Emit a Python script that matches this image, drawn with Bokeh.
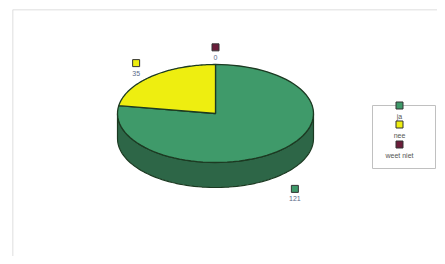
import numpy as np
from bokeh.plotting import figure
from bokeh.models import Range1d, ColumnDataSource
from bokeh.embed import file_html
from bokeh.resources import INLINE

categories = ["ja", "nee", "weet niet"]
counts = [121, 35, 0]
top_colors = ["#3f9a6a", "#eeee10", "#6b1d3a"]
side_colors = ["#2d6647", "#a8a800", "#4a1428"]
edge = "#1c3a22"

W, H = 437, 256
p = figure(width=W, height=H, output_backend="svg", toolbar_location=None,
           x_range=Range1d(0, 425), y_range=Range1d(0, 247),
           min_border_left=12, min_border_top=9, min_border_right=0, min_border_bottom=0)
p.axis.visible = False
p.grid.visible = False
p.outline_line_color = None
p.background_fill_color = "white"

# chart-area frame (left and top edges visible)
p.segment(x0=[0, 0], y0=[0, 247], x1=[0, 425], y1=[247, 247], line_color="#d4d4d4", line_width=1.5)

# pie geometry (pixel-like units)
cx, cy, a, b, depth = 203, 143, 98, 49, 25
total = float(sum(counts))
fr = [c / total for c in counts]
starts, ends = [], []
cum = 0.0
for f in fr:
    s = 90 - cum * 360
    e = 90 - (cum + f) * 360
    starts.append(s)
    ends.append(e)
    cum += f

def arc(t1, t2, n=80):
    t = np.radians(np.linspace(t1, t2, n))
    return cx + a * np.cos(t), cy + b * np.sin(t)

# side walls (front half: angles 180..360)
for i, (s, e) in enumerate(zip(starts, ends)):
    lo, hi = min(s, e), max(s, e)
    for shift in (-360, 0, 360):
        l2, h2 = max(lo + shift, 180), min(hi + shift, 360)
        if h2 > l2:
            x, y = arc(l2, h2)
            xs = list(x) + list(x[::-1])
            ys = list(y) + list((y - depth)[::-1])
            p.patch(xs, ys, fill_color=side_colors[i], line_color=edge, line_width=1.2)

# top slices
for i, (s, e) in enumerate(zip(starts, ends)):
    if abs(s - e) < 1e-6:
        continue
    x, y = arc(s, e)
    xs = [cx] + list(x)
    ys = [cy] + list(y)
    p.patch(xs, ys, fill_color=top_colors[i], line_color=edge, line_width=1.3)

# data labels
lx, ly = [], []
for s, e in zip(starts, ends):
    m = np.radians((s + e) / 2)
    x = cx + a * 1.25 * np.cos(m)
    y = cy + b * 1.35 * np.sin(m)
    if np.sin(m) < 0:
        y -= depth
    lx.append(x)
    ly.append(y)
src = ColumnDataSource(dict(x=lx, y=ly, ty=[v - 10 for v in ly],
                            t=[str(c) for c in counts], c=top_colors))
p.scatter("x", "y", source=src, marker="square", size=7, fill_color="c", line_color="#333333")
p.text("x", "ty", text="t", source=src, text_font_size="7px", text_align="center",
       text_baseline="middle", text_color="#5a6a88")

# legend box
p.quad(left=360, right=423, bottom=88, top=151, fill_color="white", line_color="#c0c0c0")
leg_y = [151, 132, 112]
lsrc = ColumnDataSource(dict(x=[387] * 3, y=leg_y, ty=[v - 11 for v in leg_y],
                             t=categories, c=top_colors))
p.scatter("x", "y", source=lsrc, marker="square", size=7, fill_color="c", line_color="#333333")
p.text("x", "ty", text="t", source=lsrc, text_font_size="7px", text_align="center",
       text_baseline="middle", text_color="#555555")

open("out.html", "w").write(file_html(p, INLINE))
